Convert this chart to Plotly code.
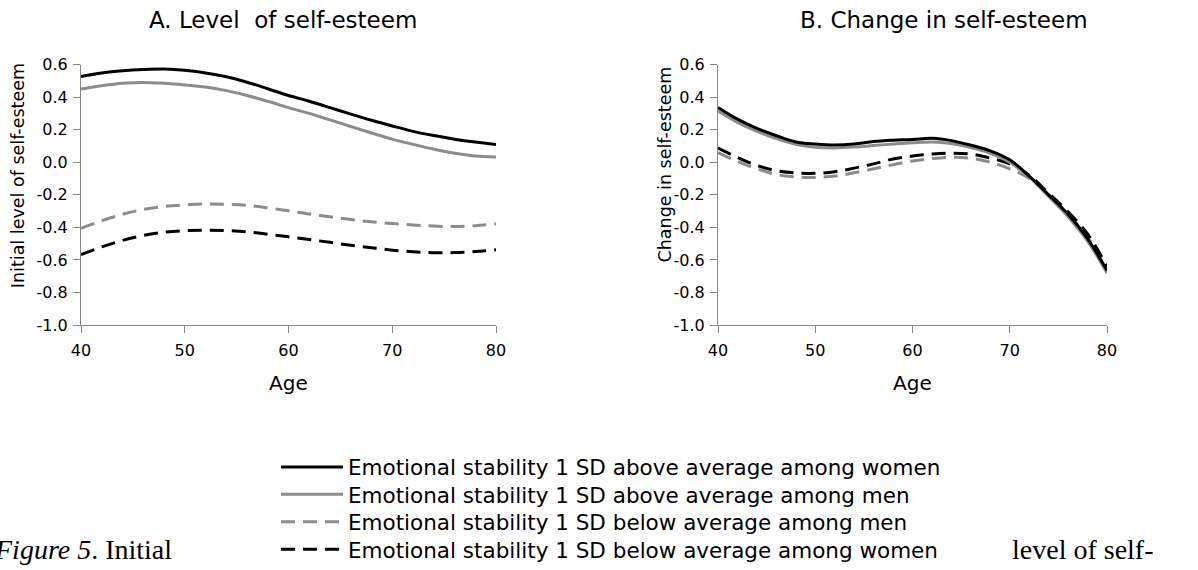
import plotly.graph_objects as go

# ---------------- data ----------------
ages = [40, 42, 44, 46, 48, 50, 52, 54, 56, 58, 60, 62, 64, 66, 68, 70, 72, 74, 76, 78, 80]

# Panel A: initial level of self-esteem
women_above_level = [0.526, 0.548, 0.562, 0.570, 0.573, 0.565, 0.548, 0.525, 0.492, 0.452, 0.410, 0.375, 0.336, 0.296, 0.258, 0.223, 0.190, 0.164, 0.142, 0.124, 0.109]
men_above_level = [0.450, 0.470, 0.485, 0.490, 0.485, 0.475, 0.462, 0.440, 0.410, 0.375, 0.336, 0.300, 0.260, 0.220, 0.180, 0.142, 0.110, 0.080, 0.056, 0.038, 0.033]
men_below_level = [-0.406, -0.360, -0.320, -0.290, -0.272, -0.262, -0.256, -0.258, -0.265, -0.280, -0.298, -0.318, -0.335, -0.352, -0.366, -0.376, -0.385, -0.392, -0.395, -0.390, -0.378]
women_below_level = [-0.567, -0.520, -0.480, -0.450, -0.430, -0.420, -0.417, -0.420, -0.428, -0.442, -0.458, -0.475, -0.492, -0.510, -0.525, -0.540, -0.550, -0.556, -0.555, -0.548, -0.538]

# Panel B: change in self-esteem
women_above_change = [0.337, 0.265, 0.208, 0.163, 0.125, 0.112, 0.106, 0.112, 0.127, 0.135, 0.140, 0.147, 0.133, 0.105, 0.070, 0.015, -0.085, -0.200, -0.320, -0.470, -0.665]
men_above_change = [0.315, 0.245, 0.190, 0.145, 0.110, 0.092, 0.088, 0.093, 0.103, 0.112, 0.120, 0.125, 0.115, 0.090, 0.055, 0.000, -0.090, -0.210, -0.335, -0.485, -0.680]
men_below_change = [0.060, 0.005, -0.040, -0.075, -0.090, -0.093, -0.085, -0.065, -0.040, -0.015, 0.008, 0.022, 0.030, 0.025, 0.000, -0.040, -0.100, -0.200, -0.320, -0.460, -0.660]
women_below_change = [0.087, 0.030, -0.020, -0.052, -0.066, -0.068, -0.058, -0.036, -0.010, 0.020, 0.038, 0.050, 0.056, 0.050, 0.025, -0.010, -0.080, -0.190, -0.305, -0.440, -0.640]

series_names = [
    "Emotional stability 1 SD above average among women",
    "Emotional stability 1 SD above average among men",
    "Emotional stability 1 SD below average among men",
    "Emotional stability 1 SD below average among women",
]

x_tick_vals = [40, 50, 60, 70, 80]
x_tick_labels = ["40", "50", "60", "70", "80"]
y_tick_vals = [-1.0, -0.8, -0.6, -0.4, -0.2, 0.0, 0.2, 0.4, 0.6]
y_tick_labels = ["-1.0", "-0.8", "-0.6", "-0.4", "-0.2", "0.0", "0.2", "0.4", "0.6"]

panel_titles = ["A. Level  of self-esteem", "B. Change in self-esteem"]
y_titles = ["Initial level of self-esteem", "Change in self-esteem"]
x_title = "Age"
caption_left = "<i>Figure 5</i>. Initial"
caption_right = "level of self-"

# ---------------- style ----------------
W, H = 1198, 570
FONT = "DejaVu Sans"
SERIF = "Liberation Serif"
BLACK = "#000000"
GRAY = "#8C8C8C"
AXIS = "#868686"
DASH = "14px,8px"

PLOT_TOP, PLOT_BOT = 66, 332
LEFT_X = (81, 496)
RIGHT_X = (718, 1107)
LEGEND_ROWS = [477, 505, 533, 561]   # pixel centres of legend rows (by legend rank)

fig = go.Figure()

# draw order: dashed first, solid on top; each series in its own legend box (row)
specs = [
    (2, men_below_level, men_below_change, GRAY, DASH),
    (3, women_below_level, women_below_change, BLACK, DASH),
    (1, men_above_level, men_above_change, GRAY, "solid"),
    (0, women_above_level, women_above_change, BLACK, "solid"),
]
legend_ids = ["legend", "legend2", "legend3", "legend4"]
for idx, lv, ch, color, dash in specs:
    fig.add_trace(go.Scatter(
        x=ages, y=lv, mode="lines", name=series_names[idx], legend=legend_ids[idx],
        line=dict(color=color, width=3, dash=dash, shape="spline"),
        xaxis="x", yaxis="y", hoverinfo="skip"))
    fig.add_trace(go.Scatter(
        x=ages, y=ch, mode="lines", name=series_names[idx], showlegend=False,
        line=dict(color=color, width=3, dash=dash, shape="spline"),
        xaxis="x2", yaxis="y2", hoverinfo="skip"))

common = dict(showgrid=False, zeroline=False, showline=True, linecolor=AXIS, linewidth=1,
              ticks="outside", ticklen=7, tickwidth=1, tickcolor=AXIS,
              tickfont=dict(family=FONT, size=16, color="black"), automargin=False)

ydom = [1 - PLOT_BOT / H, 1 - PLOT_TOP / H]
layout_kw = dict(
    width=W, height=H,
    margin=dict(l=0, r=0, t=0, b=0),
    paper_bgcolor="white", plot_bgcolor="white",
    xaxis=dict(domain=[LEFT_X[0] / W, LEFT_X[1] / W], range=[40, 80], tickvals=x_tick_vals,
               ticktext=x_tick_labels, anchor="y", ticklabelstandoff=4, **common),
    yaxis=dict(domain=ydom, range=[-1.0, 0.6], tickvals=y_tick_vals, ticktext=y_tick_labels,
               anchor="x", ticklabelstandoff=2, **common),
    xaxis2=dict(domain=[RIGHT_X[0] / W, RIGHT_X[1] / W], range=[40, 80], tickvals=x_tick_vals,
                ticktext=x_tick_labels, anchor="y2", ticklabelstandoff=4, **common),
    yaxis2=dict(domain=ydom, range=[-1.0, 0.6], tickvals=y_tick_vals, ticktext=y_tick_labels,
                anchor="x2", ticklabelstandoff=2, **common),
    showlegend=True,
)
for i, lid in enumerate(legend_ids):
    layout_kw[lid] = dict(x=276 / W, y=1 - LEGEND_ROWS[i] / H, xanchor="left", yanchor="middle",
                          bgcolor="rgba(0,0,0,0)", borderwidth=0, itemwidth=62,
                          font=dict(family=FONT, size=21.5, color="black"),
                          itemclick=False, itemdoubleclick=False)
fig.update_layout(**layout_kw)

ann = []
def add_text(text, x, y, size, family=FONT, angle=0, xanchor="center"):
    ann.append(dict(text=text, x=x / W, y=1 - y / H, xref="paper", yref="paper",
                    showarrow=False, xanchor=xanchor, yanchor="middle", textangle=angle,
                    font=dict(family=family, size=size, color="black")))

add_text(panel_titles[0], 283, 20, 23)
add_text(panel_titles[1], 944, 20, 23)
add_text(y_titles[0], 18, 180, 17.5, angle=-90)
add_text(y_titles[1], 665, 168, 17.5, angle=-90)
add_text(x_title, (LEFT_X[0] + LEFT_X[1]) / 2, 391, 20)
add_text(x_title, (RIGHT_X[0] + RIGHT_X[1]) / 2, 391, 20)
add_text(caption_left, 174, 561, 28, family=SERIF, xanchor="right")
add_text(caption_right, 1010, 561, 28, family=SERIF, xanchor="left")
fig.update_layout(annotations=ann)

fig.write_html("out.html")
